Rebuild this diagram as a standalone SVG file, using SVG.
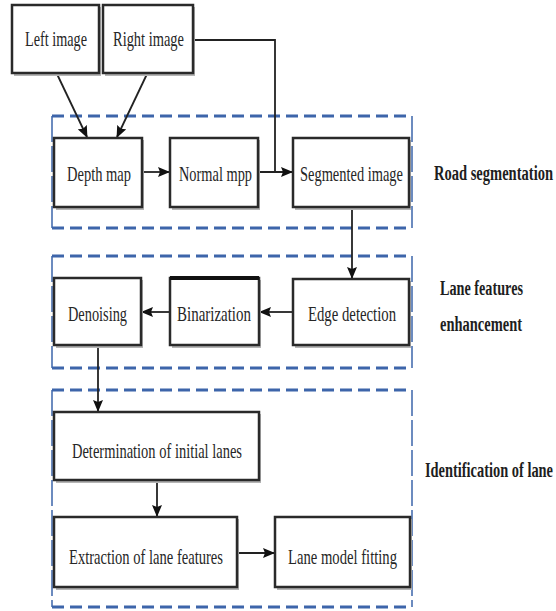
<svg xmlns="http://www.w3.org/2000/svg" width="556" height="611" viewBox="0 0 556 611">
<style>
.box{fill:#fff;stroke:#2a2a2a;stroke-width:2.5}
.sh{fill:#b5b5b5}
.t{font-family:"Liberation Serif","DejaVu Serif",serif;font-size:15px;fill:#262626}
.lbl{font-family:"Liberation Serif","DejaVu Serif",serif;font-size:14px;font-weight:bold;fill:#1e1e1e}
.grp{fill:none;stroke:#3d65aa;stroke-width:3;stroke-dasharray:12 6}
.side{fill:none;stroke:#3d65aa;stroke-width:1.5;stroke-dasharray:26 4}
.c{fill:none;stroke:#222;stroke-width:1.8}
</style>
<defs>
<marker id="ah" markerWidth="12" markerHeight="10" refX="11" refY="5" orient="auto" markerUnits="userSpaceOnUse">
<path d="M0,0 L12,5 L0,10 L2,5 Z" fill="#111"/>
</marker>
</defs>
<rect width="556" height="611" fill="#fff"/>
<g id="groups">
<line class="grp" x1="52" y1="116" x2="412" y2="116"/>
<line class="grp" x1="52" y1="228" x2="412" y2="228"/>
<line class="side" x1="52" y1="116" x2="52" y2="228"/>
<line class="side" x1="412" y1="116" x2="412" y2="228"/>
<line class="grp" x1="52" y1="256" x2="412" y2="256"/>
<line class="grp" x1="52" y1="368" x2="412" y2="368"/>
<line class="side" x1="52" y1="256" x2="52" y2="368"/>
<line class="side" x1="412" y1="256" x2="412" y2="368"/>
<line class="grp" x1="52" y1="390" x2="412" y2="390"/>
<line class="grp" x1="52" y1="607" x2="412" y2="607"/>
<line class="side" x1="52" y1="390" x2="52" y2="607"/>
<line class="side" x1="412" y1="390" x2="412" y2="607"/>
</g>
<g id="connectors">
<line class="c" x1="57" y1="74" x2="87" y2="137" marker-end="url(#ah)"/>
<line class="c" x1="147" y1="74" x2="117" y2="137" marker-end="url(#ah)"/>
<polyline class="c" points="194,40 275,40 275,172"/>
<line class="c" x1="143" y1="172" x2="169" y2="172" marker-end="url(#ah)"/>
<line class="c" x1="259" y1="172" x2="292" y2="172" marker-end="url(#ah)"/>
<line class="c" x1="352" y1="208" x2="352" y2="278" marker-end="url(#ah)"/>
<line class="c" x1="292" y1="312" x2="260" y2="312" marker-end="url(#ah)"/>
<line class="c" x1="170" y1="312" x2="142" y2="312" marker-end="url(#ah)"/>
<line class="c" x1="98" y1="346" x2="98" y2="411" marker-end="url(#ah)"/>
<line class="c" x1="157" y1="481" x2="157" y2="516" marker-end="url(#ah)"/>
<line class="c" x1="238" y1="553" x2="274" y2="553" marker-end="url(#ah)"/>
</g>
<g id="left-image"><rect class="sh" x="14" y="7" width="87" height="69"/><rect class="box" x="12" y="5" width="87" height="68"/><text class="t" transform="translate(25,46) scale(1,1.4)" textLength="62" lengthAdjust="spacingAndGlyphs">Left image</text></g>
<g id="right-image"><rect class="sh" x="105" y="7" width="90" height="69"/><rect class="box" x="103" y="5" width="90" height="68"/><text class="t" transform="translate(113,46) scale(1,1.4)" textLength="71" lengthAdjust="spacingAndGlyphs">Right image</text></g>
<g id="depth-map"><rect class="sh" x="56" y="140" width="88" height="70"/><rect class="box" x="54" y="138" width="88" height="69"/><text class="t" transform="translate(67,181) scale(1,1.4)" textLength="64" lengthAdjust="spacingAndGlyphs">Depth map</text></g>
<g id="normal-map"><rect class="sh" x="172" y="140" width="88" height="70"/><rect class="box" x="170" y="138" width="88" height="69"/><text class="t" transform="translate(179,181) scale(1,1.4)" textLength="73" lengthAdjust="spacingAndGlyphs">Normal mpp</text></g>
<g id="segmented-image"><rect class="sh" x="295" y="140" width="116" height="70"/><rect class="box" x="293" y="138" width="116" height="69"/><text class="t" transform="translate(300,181) scale(1,1.4)" textLength="103" lengthAdjust="spacingAndGlyphs">Segmented image</text></g>
<g id="road-label"><text class="lbl" transform="translate(434,180) scale(1,1.55)" textLength="119" lengthAdjust="spacingAndGlyphs">Road segmentation</text></g>
<g id="edge-detection"><rect class="sh" x="295" y="281" width="116" height="67"/><rect class="box" x="293" y="279" width="116" height="66"/><text class="t" transform="translate(308,321) scale(1,1.4)" textLength="88" lengthAdjust="spacingAndGlyphs">Edge detection</text></g>
<g id="binarization"><rect class="sh" x="172" y="280" width="89" height="68"/><rect class="box" x="170" y="278" width="89" height="67"/><line x1="170" y1="278" x2="259" y2="278" stroke="#111" stroke-width="4"/><text class="t" transform="translate(177,321) scale(1,1.4)" textLength="74" lengthAdjust="spacingAndGlyphs">Binarization</text></g>
<g id="denoising"><rect class="sh" x="56" y="280" width="87" height="68"/><rect class="box" x="54" y="278" width="87" height="67"/><text class="t" transform="translate(68,321) scale(1,1.4)" textLength="59" lengthAdjust="spacingAndGlyphs">Denoising</text></g>
<g id="lane-label"><text class="lbl" transform="translate(440,295) scale(1,1.55)" textLength="83" lengthAdjust="spacingAndGlyphs">Lane features</text><text class="lbl" transform="translate(440,331) scale(1,1.55)" textLength="82" lengthAdjust="spacingAndGlyphs">enhancement</text></g>
<g id="determination"><rect class="sh" x="56" y="414" width="205" height="69"/><rect class="box" x="54" y="412" width="205" height="68"/><text class="t" transform="translate(72,458) scale(1,1.4)" textLength="170" lengthAdjust="spacingAndGlyphs">Determination of initial lanes</text></g>
<g id="extraction"><rect class="sh" x="56" y="519" width="183" height="71"/><rect class="box" x="54" y="517" width="183" height="70"/><text class="t" transform="translate(69,564) scale(1,1.4)" textLength="154" lengthAdjust="spacingAndGlyphs">Extraction of lane features</text></g>
<g id="lane-model"><rect class="sh" x="277" y="519" width="135" height="71"/><rect class="box" x="275" y="517" width="135" height="70"/><text class="t" transform="translate(288,564) scale(1,1.4)" textLength="109" lengthAdjust="spacingAndGlyphs">Lane model fitting</text></g>
<g id="ident-label"><text class="lbl" transform="translate(425,477) scale(1,1.7)" style="font-size:12.5px" textLength="128" lengthAdjust="spacingAndGlyphs">Identification of lane</text></g>
</svg>
